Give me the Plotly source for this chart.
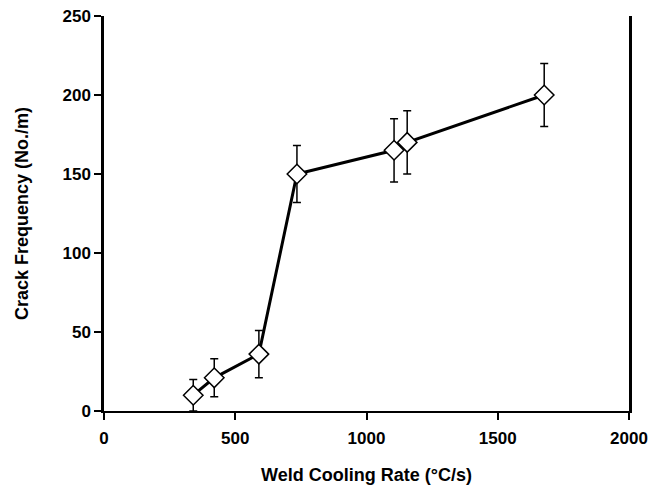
import plotly.graph_objects as go

# weld cooling rate (°C/s) vs crack frequency (No./m)
cooling_rate = [340, 420, 590, 735, 1105, 1155, 1677]
crack_freq = [10, 21, 36, 150, 165, 170, 200]
crack_err = [10, 12, 15, 18, 20, 20, 20]

FONT = "Liberation Sans, Arial, sans-serif"

fig = go.Figure()
fig.add_trace(go.Scatter(
    x=cooling_rate,
    y=crack_freq,
    mode="lines+markers",
    line=dict(color="black", width=3),
    marker=dict(symbol="diamond", size=15, color="white",
                line=dict(color="black", width=1.5)),
    error_y=dict(type="data", array=crack_err, visible=True,
                 color="black", thickness=1.5, width=4),
    showlegend=False,
))

# page body adds an 8px offset, so margins are shifted to compensate
fig.update_layout(
    width=663,
    height=491,
    margin=dict(l=96, r=42, t=8, b=88),
    paper_bgcolor="white",
    plot_bgcolor="white",
    font=dict(family=FONT, color="black", size=17),
)

fig.update_xaxes(
    range=[0, 2000],
    tickvals=[0, 500, 1000, 1500, 2000],
    ticks="outside", ticklen=7, tickwidth=2, tickcolor="black",
    showline=True, linecolor="black", linewidth=2,
    showgrid=False, zeroline=False, automargin=False,
    ticklabeloverflow="allow", ticklabelstandoff=4,
    tickfont=dict(family=FONT, size=17, weight="bold"),
    title=dict(text="<b>Weld Cooling Rate (°C/s)</b>",
               font=dict(family=FONT, size=18), standoff=21),
)
fig.update_yaxes(
    range=[0, 250],
    tickvals=[0, 50, 100, 150, 200, 250],
    ticks="outside", ticklen=7, tickwidth=2, tickcolor="black",
    showline=True, linecolor="black", linewidth=2.5, mirror=True,
    showgrid=False, zeroline=False, automargin=False,
    ticklabeloverflow="allow",
    tickfont=dict(family=FONT, size=17, weight="bold"),
    title=dict(text="<b>Crack Frequency (No./m)</b>",
               font=dict(family=FONT, size=18), standoff=30),
)

fig.write_html("out.html")
